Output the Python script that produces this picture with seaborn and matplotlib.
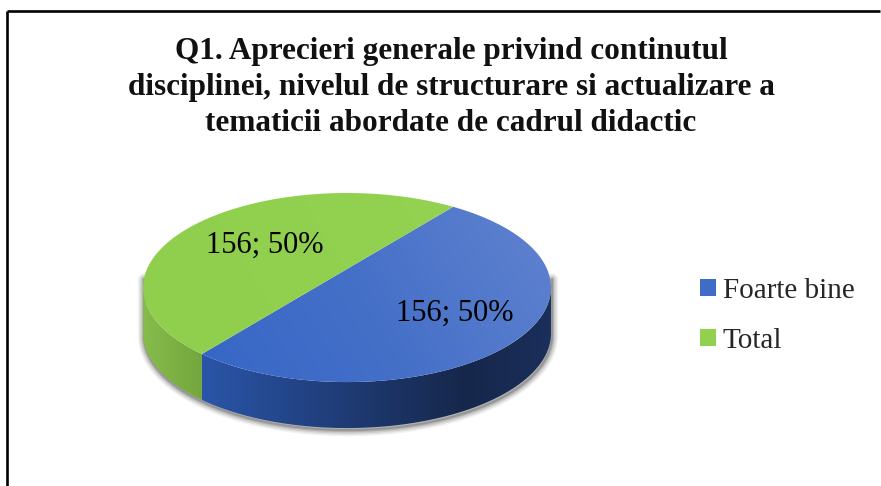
import numpy as np
import matplotlib
matplotlib.use("Agg")
import matplotlib.pyplot as plt
from matplotlib.patches import Polygon, Patch
from matplotlib.colors import to_rgb
import seaborn as sns

# Survey answers for question Q1
categories = ["Foarte bine", "Total"]
counts = [156, 156]
legend_colors = ["#3f6cc6", "#92d050"]
title_lines = [
    "Q1. Aprecieri generale privind continutul",
    "disciplinei, nivelul de structurare si actualizare a",
    "tematicii abordate de cadrul didactic",
]

sns.set_style("white")
plt.rcParams["font.family"] = ["Liberation Serif", "DejaVu Serif"]

W, H = 881, 486
fig = plt.figure(figsize=(W / 100, H / 100), dpi=100)
ax = fig.add_axes([0, 0, 1, 1])
ax.set_xlim(0, W)
ax.set_ylim(H, 0)
ax.axis("off")

# chart frame (top and left rules)
ax.plot([7, 880], [11, 11], color="black", lw=1.9, solid_capstyle="butt")
ax.plot([7, 7], [11, H], color="black", lw=1.9, solid_capstyle="butt")

# title
for i, line in enumerate(title_lines):
    ax.text(451, 51 + i * 36, line, ha="center", va="center",
            fontsize=22.5, fontweight="bold", color="#111111")

# --- 3D pie geometry (perspective projection of a tilted disc) ---
cx, cy = 347.0, 269.0      # projected hub
s, se, k = 200.0, 90.9, 0.196
depth = 46.0
start_angle = 52.2


def proj(theta_deg, r=1.0):
    t = np.radians(theta_deg)
    u, v = r * np.cos(t), r * np.sin(t)
    w = 1 + k * v
    return cx + s * u / w, cy - se * v / w


def gradient_fill(patch_xy, stops, p0, p1, zorder):
    """Fill a polygon with a linear colour gradient running from p0 to p1."""
    poly = Polygon(patch_xy, closed=True, facecolor="none", edgecolor="none")
    ax.add_patch(poly)
    xs, ys = patch_xy[:, 0], patch_xy[:, 1]
    x0, x1, y0, y1 = xs.min() - 2, xs.max() + 2, ys.min() - 2, ys.max() + 2
    nx, ny = 300, 200
    gx, gy = np.meshgrid(np.linspace(x0, x1, nx), np.linspace(y0, y1, ny))
    d = np.array(p1) - np.array(p0)
    t = ((gx - p0[0]) * d[0] + (gy - p0[1]) * d[1]) / (d @ d)
    t = np.clip(t, 0, 1)
    pos = np.array([p for p, _ in stops])
    cols = np.array([to_rgb(c) for _, c in stops])
    img = np.stack([np.interp(t, pos, cols[:, j]) for j in range(3)], axis=-1)
    im = ax.imshow(img, extent=(x0, x1, y1, y0), origin="upper",
                   interpolation="bilinear", zorder=zorder, aspect="auto")
    im.set_clip_path(poly)


total = float(sum(counts))
fracs = np.array(counts) / total
bounds = start_angle - np.concatenate([[0], np.cumsum(fracs)]) * 360

# silhouette extremes for the side wall
t_ext = np.degrees(np.arcsin(k))
side_lo, side_hi = 180 + t_ext, 360 - t_ext

# soft shadow under the lower rim
th = np.linspace(side_lo, side_hi, 300)
bx, by = proj(th)
sx = np.concatenate([[bx[0]], bx, [bx[-1]]]) + 1
sy = np.concatenate([[by[0] - 10], by + depth, [by[-1] - 10]]) + 2
for lw, a in [(9, 0.05), (7, 0.07), (5, 0.09), (3, 0.12), (1.5, 0.15)]:
    ax.plot(sx, sy, color="black", lw=lw, alpha=a, zorder=1,
            solid_joinstyle="round", solid_capstyle="round")

side_stops = [
    [(0, "#2a55a8"), (0.75, "#16274b"), (1, "#1b2f5b")],
    [(0, "#86bc4c"), (1, "#74a63d")],
]
top_stops = [
    [(0, "#5b7fce"), (0.5, "#4570c8"), (1, "#3767c6")],
    [(0, "#94d252"), (1, "#90cf4e")],
]

for i in range(len(counts)):
    a_hi, a_lo = bounds[i], bounds[i + 1]  # clockwise from a_hi to a_lo
    # normalise to ccw range [lo, hi]
    lo, hi = a_lo % 360, (a_lo % 360) + (a_hi - a_lo)
    # visible side wall: intersection with the front half
    vlo, vhi = None, None
    for off in (0, -360, 360):
        l2, h2 = max(lo + off, side_lo), min(hi + off, side_hi)
        if h2 > l2:
            vlo, vhi = l2, h2
    if vlo is not None:
        tt = np.linspace(vlo, vhi, 200)
        px, py = proj(tt)
        xy = np.column_stack([np.concatenate([px, px[::-1]]),
                              np.concatenate([py, py[::-1] + depth])])
        gradient_fill(xy, side_stops[i], (xy[:, 0].min(), 0),
                      (xy[:, 0].max(), 0), zorder=2)

for i in range(len(counts)):
    a_hi, a_lo = bounds[i], bounds[i + 1]
    tt = np.linspace(a_hi, a_lo, 300)
    px, py = proj(tt)
    xy = np.column_stack([np.concatenate([[cx], px]), np.concatenate([[cy], py])])
    gradient_fill(xy, top_stops[i], (500, 205), (215, 375), zorder=3)

# data labels
for i, c in enumerate(counts):
    mid = (bounds[i] + bounds[i + 1]) / 2
    lx, ly = proj(mid, 0.6)
    ax.text(lx + 6, ly + 8, f"{c}; {fracs[i] * 100:.0f}%", ha="center",
            va="center", fontsize=22, color="black", zorder=5)

# legend
handles = [Patch(facecolor=col, edgecolor="none") for col in legend_colors]
ax.legend(handles, categories, loc="center left", bbox_to_anchor=(0.795, 0.35),
          frameon=False, fontsize=21, handlelength=0.55, handleheight=0.55,
          handletextpad=0.22, labelspacing=0.82, borderaxespad=0, borderpad=0)

fig.savefig("out.png", dpi=100)
